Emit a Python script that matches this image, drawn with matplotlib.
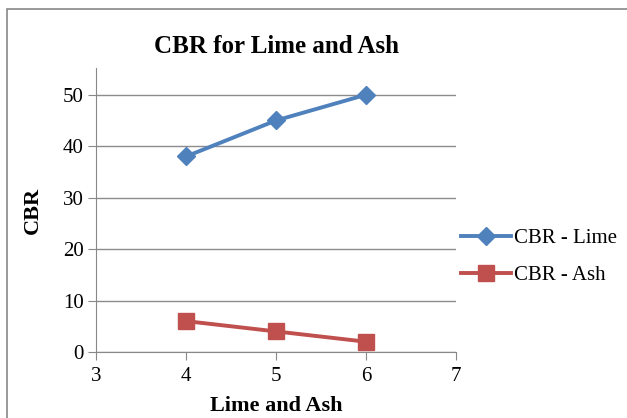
import matplotlib
matplotlib.use("Agg")
import matplotlib.pyplot as plt
from matplotlib.patches import Rectangle

# --- dados ---
x_vals = [4, 5, 6]
cbr_lime = [38, 45, 50]
cbr_ash = [6, 4, 2]
x_ticks = [3, 4, 5, 6, 7]
y_ticks = [0, 10, 20, 30, 40, 50]

plt.rcParams["font.family"] = ["Liberation Serif", "DejaVu Serif"]

fig = plt.figure(figsize=(6.27, 4.18), dpi=100)
ax = fig.add_axes([96 / 627, 66 / 418, 360 / 627, 284 / 418])

# borda externa do gráfico (estilo Excel)
fig.patches.append(Rectangle((7 / 627, -0.1), 1.2, (418 - 9) / 418 + 0.1,
                             transform=fig.transFigure, fill=False,
                             edgecolor="#888888", linewidth=1.2))

ax.plot(x_vals, cbr_lime, color="#4F81BD", linewidth=2.8, marker="D",
        markersize=9, label="CBR - Lime")
ax.plot(x_vals, cbr_ash, color="#C0504D", linewidth=2.8, marker="s",
        markersize=11, label="CBR - Ash")

ax.set_xlim(3, 7)
ax.set_ylim(0, 55.2)
ax.set_xticks(x_ticks)
ax.set_yticks(y_ticks)
ax.tick_params(labelsize=15, direction="out", length=6, color="#888888", pad=3)
ax.tick_params(axis="x", pad=5)
ax.yaxis.grid(True, color="#8c8c8c", linewidth=1)
ax.set_axisbelow(True)
for s in ["top", "right"]:
    ax.spines[s].set_visible(False)
for s in ["left", "bottom"]:
    ax.spines[s].set_color("#888888")

ax.set_title("CBR for Lime and Ash", fontsize=18, fontweight="bold", pad=11)
ax.set_xlabel("Lime and Ash", fontsize=16, fontweight="bold", labelpad=7)
ax.set_ylabel("CBR", fontsize=16, fontweight="bold", labelpad=14)

ax.legend(loc="center left", bbox_to_anchor=(0.99, 0.335), frameon=False,
          fontsize=15, handlelength=2.4, handletextpad=0.15, labelspacing=0.85,
          borderaxespad=0)

fig.savefig("out.png", dpi=100)
